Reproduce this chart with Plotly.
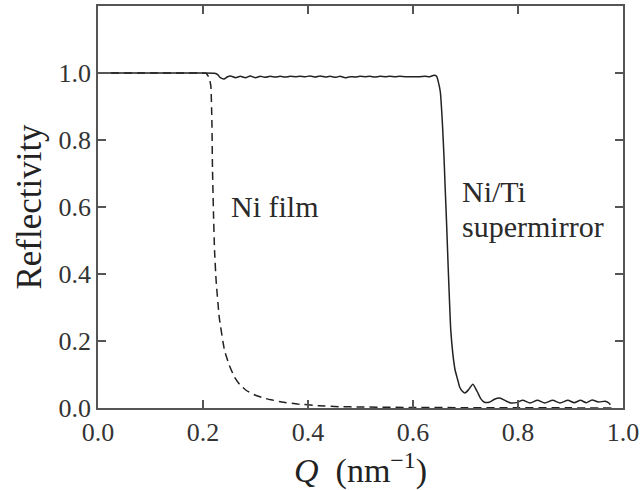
import plotly.graph_objects as go

# Ni single-layer film (dashed)
ni_q = [0.0, 0.10, 0.19, 0.206, 0.212, 0.215, 0.217, 0.218, 0.220, 0.222, 0.225,
        0.231, 0.241, 0.250, 0.260, 0.270, 0.282, 0.300, 0.320, 0.350, 0.380,
        0.420, 0.460, 0.500, 0.600, 0.700, 0.800, 0.900, 0.980]
ni_r = [1.0, 1.0, 1.0, 0.999, 0.985, 0.96, 0.85, 0.72, 0.58, 0.47, 0.38,
        0.27, 0.172, 0.128, 0.092, 0.070, 0.053, 0.038, 0.028, 0.018, 0.012,
        0.007, 0.004, 0.003, 0.0015, 0.001, 0.0006, 0.0004, 0.0003]

# Ni/Ti supermirror (solid)
sm_q = [0.0, 0.10, 0.20, 0.222, 0.228, 0.233, 0.240, 0.246, 0.252,
        0.262, 0.271, 0.281, 0.290, 0.300, 0.309, 0.319, 0.328, 0.338, 0.347,
        0.357, 0.366, 0.376, 0.385, 0.395, 0.404, 0.414, 0.423, 0.433, 0.442,
        0.452, 0.461, 0.471, 0.480, 0.490, 0.499, 0.509, 0.518, 0.528, 0.537,
        0.547, 0.556, 0.566, 0.575, 0.585, 0.594, 0.604, 0.613, 0.623, 0.632,
        0.640, 0.645, 0.648, 0.652, 0.656, 0.659, 0.661, 0.664, 0.667, 0.670,
        0.672, 0.676, 0.680, 0.685, 0.689, 0.694, 0.699, 0.706, 0.714, 0.722,
        0.729, 0.735, 0.745, 0.755, 0.765, 0.776, 0.786, 0.797, 0.809, 0.823,
        0.837, 0.851, 0.866, 0.880, 0.895, 0.907, 0.919, 0.930, 0.941, 0.953,
        0.966, 0.972, 0.976]
sm_r = [1.0, 1.0, 1.0, 0.999, 0.995, 0.986, 0.982, 0.988, 0.991,
        0.986, 0.990, 0.986, 0.991, 0.986, 0.990, 0.987, 0.990, 0.988, 0.990,
        0.988, 0.990, 0.989, 0.990, 0.989, 0.991, 0.988, 0.991, 0.988, 0.990,
        0.987, 0.990, 0.986, 0.989, 0.988, 0.990, 0.989, 0.990, 0.988, 0.990,
        0.989, 0.990, 0.989, 0.990, 0.989, 0.989, 0.989, 0.989, 0.990, 0.989,
        0.993, 0.990, 0.975, 0.944, 0.85, 0.75, 0.668, 0.55, 0.42, 0.30,
        0.231, 0.16, 0.115, 0.085, 0.062, 0.050, 0.045, 0.055, 0.071, 0.050,
        0.028, 0.018, 0.017, 0.026, 0.030, 0.022, 0.015, 0.016, 0.023, 0.015,
        0.023, 0.015, 0.023, 0.015, 0.023, 0.016, 0.023, 0.016, 0.024, 0.018,
        0.020, 0.016, 0.010]

x_ticks = [0.0, 0.2, 0.4, 0.6, 0.8, 1.0]
y_ticks = [0.0, 0.2, 0.4, 0.6, 0.8, 1.0]

ink = "#222222"
frame = "#555555"
serif = "Liberation Serif"

fig = go.Figure()
fig.add_trace(go.Scatter(x=ni_q, y=ni_r, mode="lines",
                         line=dict(color=ink, width=1.5, dash="8px,5px", shape="spline", smoothing=0.4),
                         showlegend=False, hoverinfo="skip"))
fig.add_trace(go.Scatter(x=sm_q, y=sm_r, mode="lines",
                         line=dict(color=ink, width=1.5, shape="spline", smoothing=0.6),
                         showlegend=False, hoverinfo="skip"))

label_font = dict(size=30, color="#2a2a2a", family=serif)
fig.add_annotation(x=0.250, y=0.602, text="Ni film", showarrow=False,
                   xanchor="left", yanchor="middle", font=label_font)
fig.add_annotation(x=0.690, y=0.647, text="Ni/Ti", showarrow=False,
                   xanchor="left", yanchor="middle", font=label_font)
fig.add_annotation(x=0.690, y=0.543, text="supermirror", showarrow=False,
                   xanchor="left", yanchor="middle", font=label_font)

axis_common = dict(showline=True, linecolor=frame, linewidth=1.5, mirror="ticks",
                   ticks="inside", ticklen=8, tickwidth=1.5, tickcolor=frame,
                   showgrid=False, zeroline=False,
                   tickfont=dict(size=26, color="#333333", family=serif))

fig.update_xaxes(range=[0, 1.0], tickvals=x_ticks, ticktext=[f"{v:.1f}" for v in x_ticks],
                 title=dict(text="<i>Q</i>\u2002(nm<sup>−1</sup>)",
                            font=dict(size=34, color="#222222", family=serif), standoff=4),
                 **axis_common)
fig.update_yaxes(range=[0, 1.2], tickvals=y_ticks, ticktext=[f"{v:.1f}" for v in y_ticks],
                 title=dict(text="Reflectivity", font=dict(size=35, color="#222222", family=serif),
                            standoff=6),
                 **axis_common)

fig.update_layout(width=643, height=490, margin=dict(l=98, r=17, t=4, b=82),
                  plot_bgcolor="white", paper_bgcolor="white")

fig.write_html("out.html")
